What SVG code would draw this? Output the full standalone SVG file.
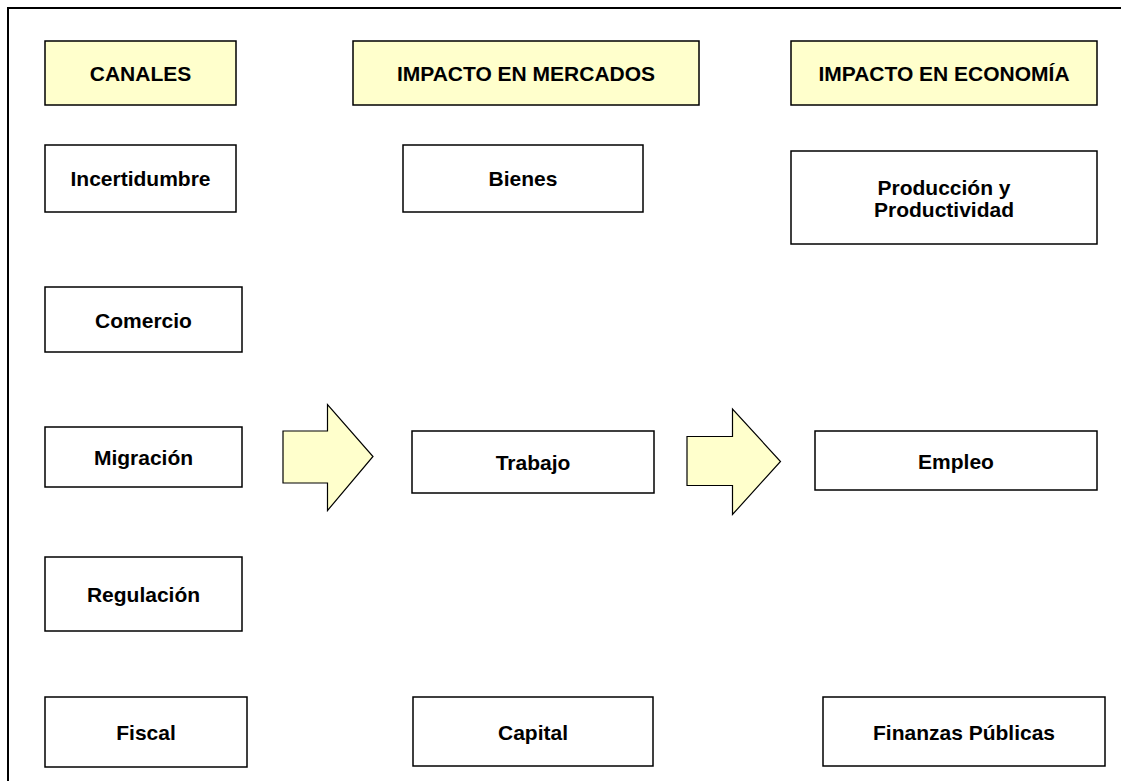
<svg xmlns="http://www.w3.org/2000/svg" width="1121" height="781" viewBox="0 0 1121 781">
<style>
.frame{fill:none;stroke:#000;stroke-width:2}
.box{fill:#fff;stroke:#000;stroke-width:1.5}
.hdr{fill:#ffffcc;stroke:#000;stroke-width:1.5}
.arr{fill:#ffffcc;stroke:#000;stroke-width:1.2;stroke-linejoin:miter}
text{font-family:"Liberation Sans",Arial,sans-serif;font-weight:bold;font-size:21px;fill:#000;text-anchor:middle}
</style>
<rect width="1121" height="781" fill="#fff"/>
<rect class="frame" x="8" y="8" width="1200" height="800"/>
<g id="h-canales"><rect class="hdr" x="45" y="41" width="191" height="64"/><text x="140.5" y="81">CANALES</text></g>
<g id="h-mercados"><rect class="hdr" x="353" y="41" width="346" height="64"/><text x="526" y="81">IMPACTO EN MERCADOS</text></g>
<g id="h-economia"><rect class="hdr" x="791" y="41" width="306" height="64"/><text x="944" y="81">IMPACTO EN ECONOMÍA</text></g>
<g id="n-incertidumbre"><rect class="box" x="45" y="145" width="191" height="67"/><text x="140.5" y="186">Incertidumbre</text></g>
<g id="n-comercio"><rect class="box" x="45" y="287" width="197" height="65"/><text x="143.5" y="328">Comercio</text></g>
<g id="n-migracion"><rect class="box" x="45" y="427" width="197" height="60"/><text x="143.5" y="465">Migración</text></g>
<g id="n-regulacion"><rect class="box" x="45" y="557" width="197" height="74"/><text x="143.5" y="602">Regulación</text></g>
<g id="n-fiscal"><rect class="box" x="45" y="697" width="202" height="70"/><text x="146" y="740">Fiscal</text></g>
<g id="n-bienes"><rect class="box" x="403" y="145" width="240" height="67"/><text x="523" y="186">Bienes</text></g>
<g id="n-trabajo"><rect class="box" x="412" y="431" width="242" height="62"/><text x="533" y="470">Trabajo</text></g>
<g id="n-capital"><rect class="box" x="413" y="697" width="240" height="69"/><text x="533" y="740">Capital</text></g>
<g id="n-produccion"><rect class="box" x="791" y="151" width="306" height="93"/><text x="944" y="195">Producción y</text><text x="944" y="217">Productividad</text></g>
<g id="n-empleo"><rect class="box" x="815" y="431" width="282" height="59"/><text x="956" y="469">Empleo</text></g>
<g id="n-finanzas"><rect class="box" x="823" y="697" width="282" height="69"/><text x="964" y="740">Finanzas Públicas</text></g>
<g id="connectors">
<polygon class="arr" points="283,431 327.5,431 327.5,404.5 373,456.5 327.5,510.5 327.5,483 283,483"/>
<polygon class="arr" points="687,436.5 732.5,436.5 732.5,409 780.5,461.5 732.5,514.5 732.5,485.5 687,485.5"/>
</g>
</svg>
